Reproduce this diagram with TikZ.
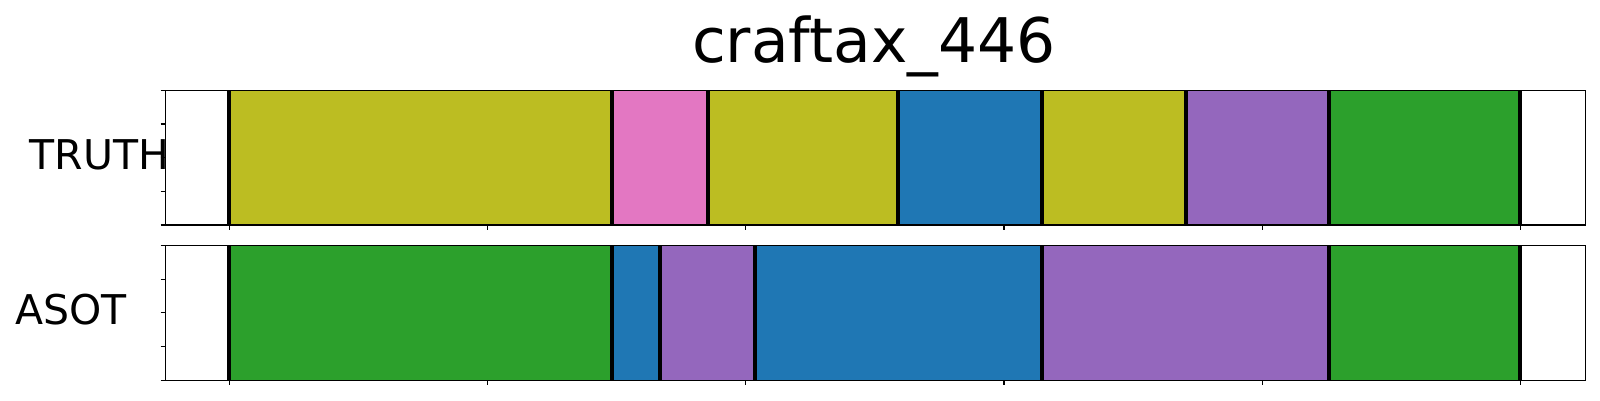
\documentclass[tikz,border=0pt]{standalone}
\usepackage{fontspec}
\setmainfont{DejaVu Sans}
\definecolor{tolive}{HTML}{BCBD22}
\definecolor{tpink}{HTML}{E377C2}
\definecolor{tblue}{HTML}{1F77B4}
\definecolor{tpurple}{HTML}{9467BD}
\definecolor{tgreen}{HTML}{2CA02C}
\begin{document}
\begin{tikzpicture}[x=1pt,y=-1pt,
  segline/.style={line width=4pt,black},
  framebox/.style={line width=1.3pt,black},
  tickline/.style={line width=1.1pt,black},
  lbl/.style={inner sep=0pt,anchor=base west,font=\fontsize{41}{48}\selectfont},
  ttl/.style={inner sep=0pt,anchor=base,font=\fontsize{61.5}{70}\selectfont}]
\useasboundingbox (0,0) rectangle (1600,400);
% title
\node[ttl] (title) at (874,62.3) {craftax\_446};
% TRUTH row
\foreach \a/\b/\c in {229.3/612.3/tolive,612.3/707.5/tpink,707.5/898/tolive,898/1042/tblue,1042/1185.7/tolive,1185.7/1328.8/tpurple,1328.8/1520.3/tgreen}
  \fill[\c] (\a,90.3) rectangle (\b,225);
\foreach \x in {229.3,612.3,707.5,898,1042,1185.7,1328.8,1520.3}
  \draw[segline] (\x,90.3) -- (\x,225);
\draw[framebox] (165.5,90.3) rectangle (1585.7,225);
\foreach \y in {90.3,124,157.65,191.3,225}
  \draw[tickline] (160.5,\y) -- (165.5,\y);
\foreach \x in {229.3,487.5,745.7,1004,1262.2,1520.3}
  \draw[tickline] (\x,225) -- (\x,230);
\node[lbl] (truth) at (29.3,169) {TRUTH};
% ASOT row
\foreach \a/\b/\c in {229.3/612.3/tgreen,612.3/659.7/tblue,659.7/755/tpurple,755/1042/tblue,1042/1328.8/tpurple,1328.8/1520.3/tgreen}
  \fill[\c] (\a,245.3) rectangle (\b,380.3);
\foreach \x in {229.3,612.3,659.7,755,1042,1328.8,1520.3}
  \draw[segline] (\x,245.3) -- (\x,380.3);
\draw[framebox] (165.5,245.3) rectangle (1585.7,380.3);
\foreach \y in {245.3,279.05,312.8,346.55,380.3}
  \draw[tickline] (160.5,\y) -- (165.5,\y);
\foreach \x in {229.3,487.5,745.7,1004,1262.2,1520.3}
  \draw[tickline] (\x,380.3) -- (\x,385.3);
\node[lbl] (asot) at (15,324) {ASOT};
\end{tikzpicture}
\end{document}
